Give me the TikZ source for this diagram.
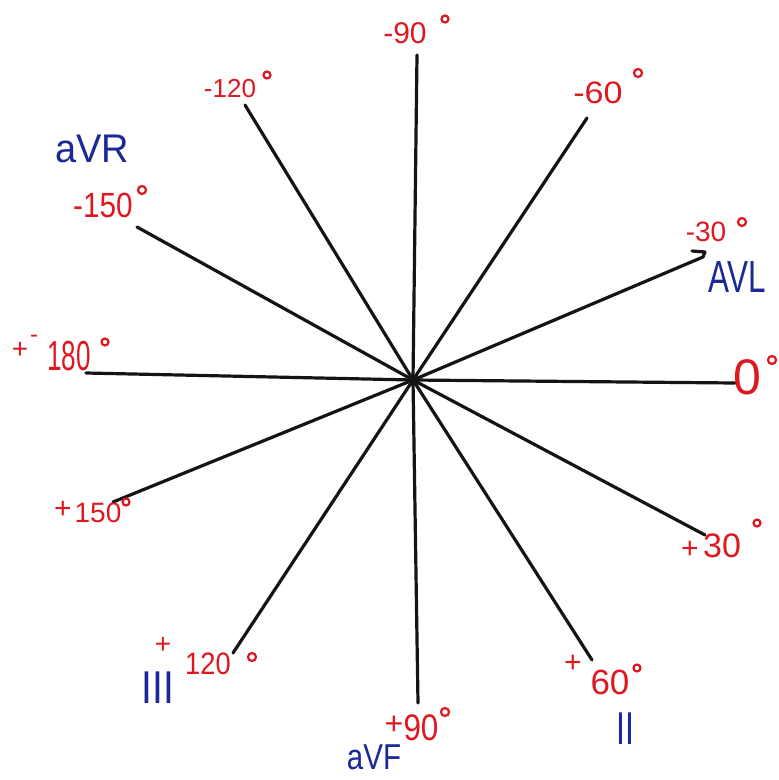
\documentclass[tikz,border=0pt]{standalone}
\usepackage{graphicx}
\usepackage{fontspec}
\setmainfont{Liberation Sans}
\definecolor{hred}{RGB}{222,24,32}
\definecolor{hblue}{RGB}{28,40,150}
\newcommand{\hsq}[2]{\scalebox{#1}[1]{#2}}
\begin{document}
\begin{tikzpicture}[x=1pt,y=-1pt,
  ray/.style={line width=3.2pt,black!92,line cap=round},
  rlab/.style={text=hred,inner sep=0pt},
  blab/.style={text=hblue,inner sep=0pt},
  deg/.style={draw=hred,line width=2.2pt}]
\useasboundingbox (0,0) rectangle (779,780);
\fill[white] (0,0) rectangle (779,780);
\coordinate (O) at (413,380);
\coordinate (m90) at (417,55);
\coordinate (m120) at (245,105);
\coordinate (m60) at (587,118);
\coordinate (m30) at (703,257);
\coordinate (z0) at (735,383);
\coordinate (p30) at (705,535);
\coordinate (p60) at (592,660);
\coordinate (p90) at (418,703);
\coordinate (p120) at (233,653);
\coordinate (p150) at (113,502);
\coordinate (p180) at (86,373);
\coordinate (m150) at (137,227);
\coordinate (hk1) at (705,252);
\coordinate (hk2) at (692,251);
\foreach \e in {m90,m120,m60,z0,p30,p60,p90,p120,p150,p180,m150}
  \draw[ray] (O) -- (\e);
\draw[ray,line join=round] (O) -- (m30) -- (hk1) -- (hk2);
% red labels
\node[rlab,font=\fontsize{30}{30}\selectfont] (tm90) at (405,33) {-90};
\draw[deg] (445,19) circle (3.5);
\node[rlab,font=\fontsize{26}{26}\selectfont] (tm120) at (230,89) {-120};
\draw[deg] (267,75) circle (3.5);
\node[rlab,font=\fontsize{31}{31}\selectfont] (tm60) at (598,93) {\hsq{1.1}{-60}};
\draw[deg] (638,73) circle (4);
\node[rlab,font=\fontsize{28}{28}\selectfont] (tm30) at (706,232) {-30};
\draw[deg] (742,222) circle (4);
\node[rlab,font=\fontsize{50}{50}\selectfont] (t0) at (747,377) {0};
\draw[deg] (772,360) circle (4);
\node[rlab,font=\fontsize{30}{30}\selectfont] (tp30p) at (690,550) {+};
\node[rlab,font=\fontsize{34}{34}\selectfont] (tp30) at (722,546) {30};
\draw[deg] (757,523) circle (3.5);
\node[rlab,font=\fontsize{30}{30}\selectfont] (tp60p) at (573,664) {+};
\node[rlab,font=\fontsize{35}{35}\selectfont] (tp60) at (610,682) {60};
\draw[deg] (637,668) circle (3.5);
\node[rlab,font=\fontsize{32}{32}\selectfont,text height=20pt,text depth=0pt] (tp90p) at (394,724) {+};
\node[rlab,font=\fontsize{37}{37}\selectfont] (tp90) at (421,728) {\hsq{0.85}{90}};
\draw[deg] (445,712) circle (4);
\node[rlab,font=\fontsize{28}{28}\selectfont] (tp120p) at (163,645) {+};
\node[rlab,font=\fontsize{31}{31}\selectfont] (tp120) at (208,664) {\hsq{0.88}{120}};
\draw[deg] (252,657) circle (4);
\node[rlab,font=\fontsize{30}{30}\selectfont] (tp150p) at (63,510) {+};
\node[rlab,font=\fontsize{28}{28}\selectfont] (tp150) at (98,513) {150};
\draw[deg] (126,502) circle (3.5);
\node[rlab,font=\fontsize{28}{28}\selectfont] (tp180p) at (20,350) {+};
\node[rlab,font=\fontsize{24}{24}\selectfont] (tp180m) at (34,339) {-};
\node[rlab,font=\fontsize{42}{42}\selectfont] (tp180) at (69,356) {\hsq{0.62}{180}};
\draw[deg] (105,342) circle (3.5);
\node[rlab,font=\fontsize{35}{35}\selectfont] (tm150) at (103,205) {\hsq{0.85}{-150}};
\draw[deg] (142,190) circle (4);
% blue labels
\node[blab,font=\fontsize{40}{40}\selectfont] (avr) at (92,149) {\hsq{0.95}{aVR}};
\node[blab,font=\fontsize{45}{45}\selectfont] (avl) at (737,277) {\hsq{0.7}{AVL}};
\node[blab,font=\fontsize{46}{46}\selectfont] (aII) at (625,729) {\hsq{0.7}{II}};
\node[blab,font=\fontsize{46}{46}\selectfont] (aIII) at (158,688) {\hsq{0.85}{III}};
\node[blab,font=\fontsize{36}{36}\selectfont,anchor=base,text height=26pt,text depth=0pt] (avf) at (374,769) {\hsq{0.82}{aVF}};
\end{tikzpicture}
\end{document}
